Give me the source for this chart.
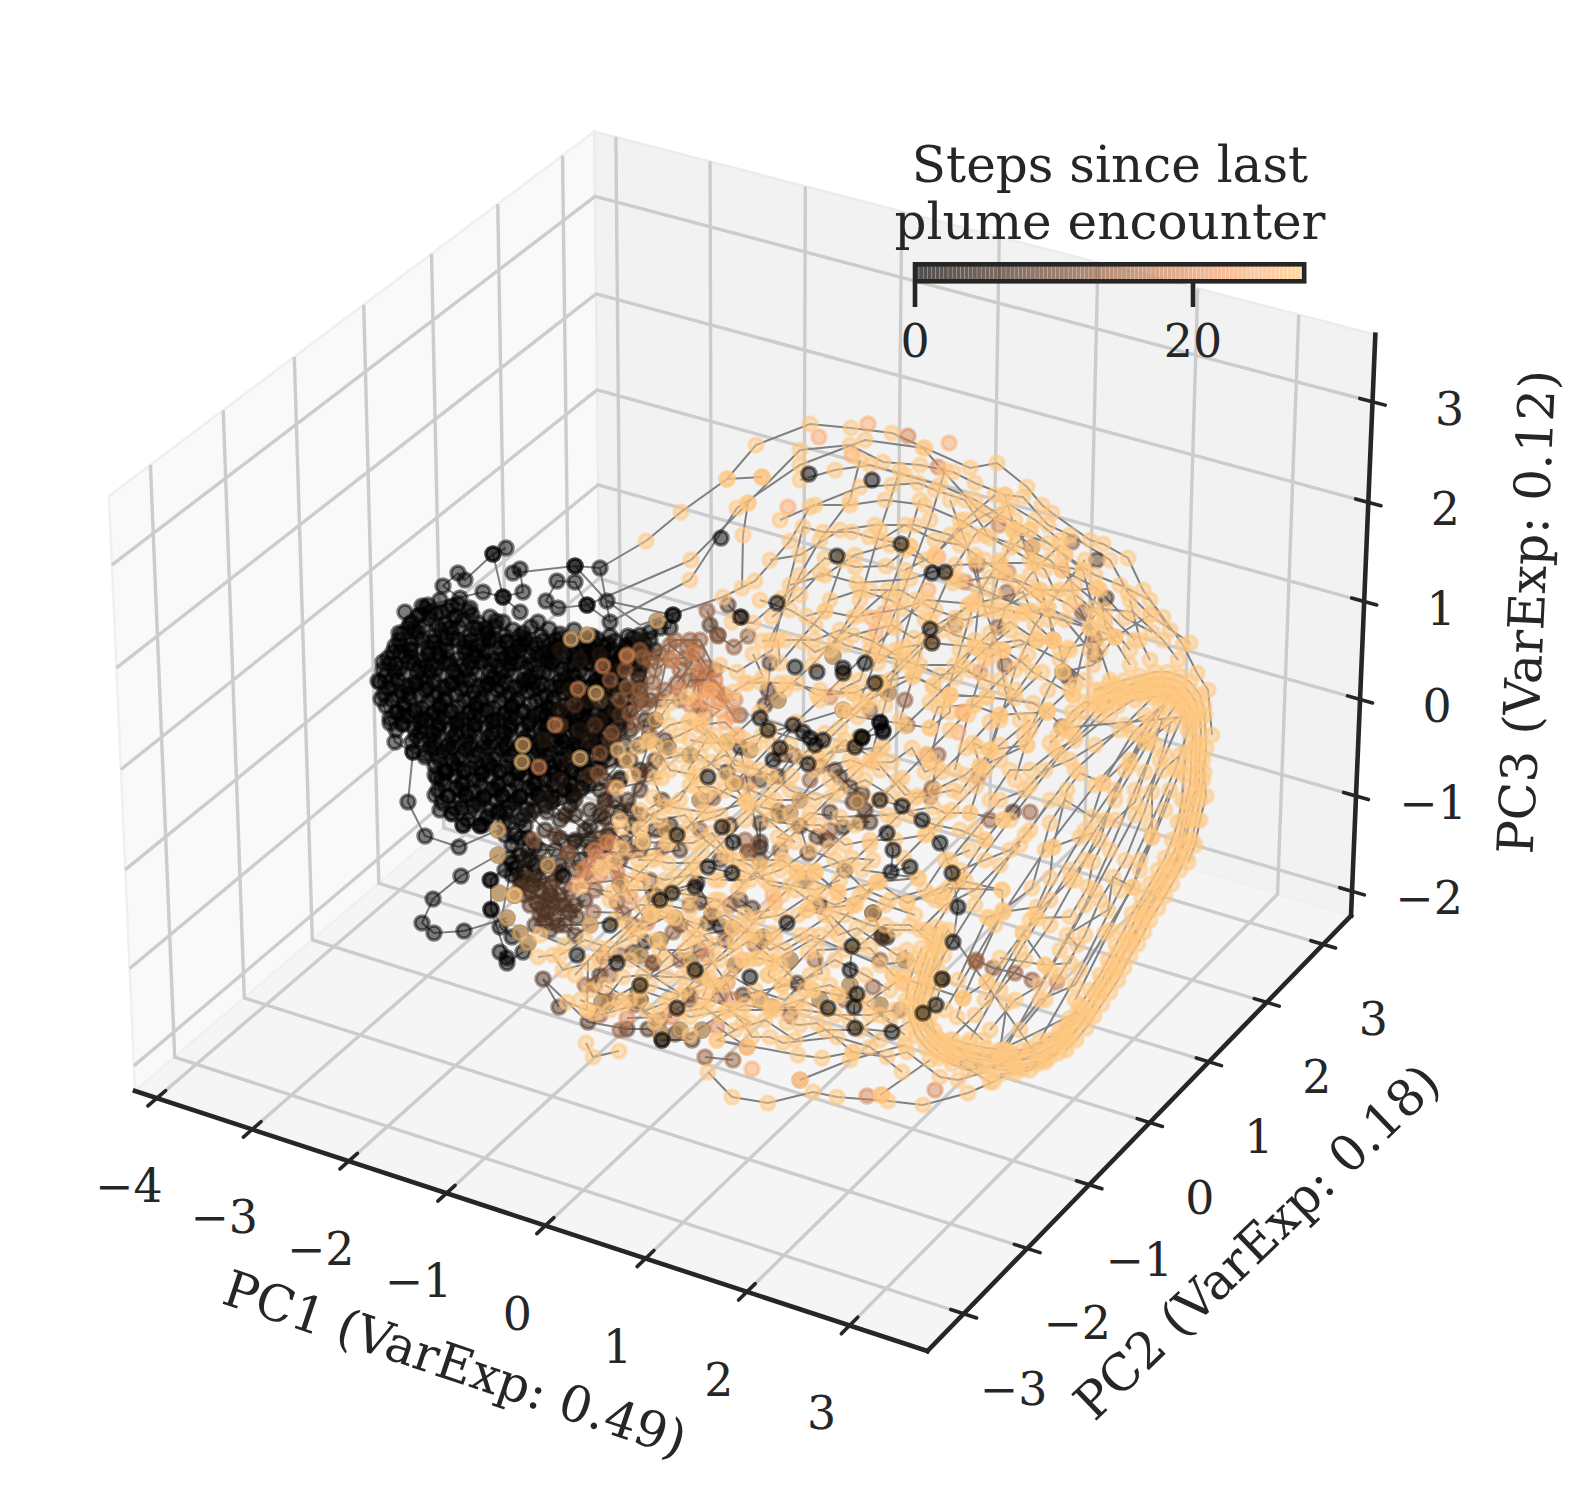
<!DOCTYPE html>
<html><head><meta charset="utf-8">
<script src="https://cdn.jsdelivr.net/npm/d3@7"></script>
<style>html,body{margin:0;background:#fff}svg{display:block}text{font-family:"DejaVu Serif",serif;fill:#262626}</style>
</head><body><svg id="c" width="1596" height="1493"></svg>
<script>
// axis data
const xLim=[-4.23,3.75], yLim=[-3.56,3.5], zLim=[-2.26,3.66];
const xTicks=[-4,-3,-2,-1,0,1,2,3], yTicks=[-3,-2,-1,0,1,2,3], zTicks=[-2,-1,0,1,2,3];
const cbTicks=[0,20], stepDomain=[0,28];
const labelPC1="PC1 (VarExp: 0.49)", labelPC2="PC2 (VarExp: 0.18)", labelPC3="PC3 (VarExp: 0.12)";
const cbTitle=["Steps since last","plume encounter"];
// trajectory states (x,y pairs per track)
const links=[[600,568,646,541],[607,601,640,625],[459,847,498,830],[461,876,498,855],[464,931,507,918],[413,752,395,742],[588,1022,567,1002],[543,979,567,1002],[662,1040,692,1040],[610,622,690,580],[587,605,691,560],[640,625,723,597]];
const cloudRows=[
[425,608,441,612,452,606,468,611],[412,622,429,619,445,624,463,620,478,623,496,621],
[402,634,418,632,435,636,452,633,470,635,488,632,505,636,523,633,541,636,560,634],
[395,646,411,644,428,648,446,645,464,647,482,644,500,648,518,646,536,644,554,648,572,645,590,647,608,644,626,646,644,643],
[388,658,405,656,422,660,440,657,458,659,476,656,494,660,512,658,530,656,548,660,566,657,584,659,602,656,620,658,640,655],
[383,670,400,668,418,672,436,669,454,671,472,668,490,672,508,670,526,668,544,672,562,669,580,671,598,668,616,670,634,668],
[380,682,398,680,416,684,434,681,452,683,470,680,488,684,506,682,524,680,542,684,560,681,578,683,596,680,614,682],
[384,694,402,692,420,696,438,693,456,695,474,692,492,696,510,694,528,692,546,696,564,693,582,695,600,692],
[386,706,404,704,422,708,440,705,458,707,476,704,494,708,512,706,530,704,548,708,566,705,584,707,602,704,620,706],
[390,718,408,716,426,720,444,717,462,719,480,716,498,720,516,718,534,716,552,720,570,717,588,719,606,716,624,718],
[396,730,414,728,432,732,450,729,468,731,486,728,504,732,522,730,540,728,558,732,576,729,594,731,612,728],
[412,742,430,740,448,744,466,741,484,743,502,740,520,744,538,742,556,740,574,744,592,741,610,743],
[425,754,443,752,461,756,479,753,497,755,515,752,533,756,551,754,569,752,587,756,605,753],
[435,766,453,764,471,768,489,765,507,767,525,764,543,768,561,766,579,764,597,768],
[437,778,455,776,473,780,491,777,509,779,527,776,545,780,563,778,581,776],
[438,790,456,788,474,792,492,789,510,791,528,788,546,792,564,790,582,788],
[442,802,460,800,478,804,496,801,514,803,532,800,552,802,570,806],[452,814,470,812,488,816,506,813,524,815],[463,825,480,826],
[420,615,438,626,456,616,474,628,490,640,410,650,428,654,446,638,466,642,486,652,506,642,526,642,546,652,566,652,586,640,604,652],
[396,664,414,664,432,664,450,664,470,662,490,664,510,664,530,664,552,664,574,664,592,664,612,664,628,662],
[392,688,410,688,428,688,446,688,466,688,484,688,502,688,520,688,538,688,556,688,574,688,590,688,606,688],
[398,712,416,712,434,712,452,712,470,712,488,712,506,712,524,712,542,712,560,712,578,712,596,712,612,712],
[404,724,422,726,440,724,458,726,476,724,494,726,512,724,530,724,548,726,566,724,584,724,602,724],
[434,748,452,748,470,748,488,748,506,748,524,748,542,748,560,748,578,748,596,748],
[446,772,464,772,482,772,500,772,518,772,536,772,554,772,572,772,590,772],[448,796,466,796,484,796,502,796,520,796,538,796]
];
const cloudLayerA=[
[418,616,436,614,454,618,472,615,490,617,408,628,424,626,441,630,459,627,477,629,495,626,513,630,531,627,549,629,399,640,417,638,435,642,453,639,471,641,489,638,507,642,525,639,543,641,561,638,579,642,597,639,615,641,633,638,650,640],
[393,652,411,650,429,654,447,651,465,653,483,650,501,654,519,651,537,653,555,650,573,654,591,651,609,653,627,650,645,652,390,664,408,662,426,666,444,663,462,665,480,662,498,666,516,663,534,665,552,662,570,666,588,663,606,665,624,662,642,664],
[386,676,404,674,422,678,440,675,458,677,476,674,494,678,512,675,530,677,548,674,566,678,584,675,602,677,620,674,638,676,388,688,407,686,425,690,443,687,461,689,479,686,497,690,515,687,533,689,551,686,569,690,587,687,605,689,623,686,640,688],
[392,700,410,698,428,702,446,699,464,701,482,698,500,702,518,699,536,701,554,698,572,702,590,699,608,701,626,698,396,712,414,710,432,714,450,711,468,713,486,710,504,714,522,711,540,713,558,710,576,714,594,711,612,713,630,710],
[402,724,420,722,438,726,456,723,474,725,492,722,510,726,528,723,546,725,564,722,582,726,600,723,618,725,416,736,434,734,452,738,470,735,488,737,506,734,524,738,542,735,560,737,578,734,596,738,614,735],
[430,748,448,746,466,750,484,747,502,749,520,746,538,750,556,747,574,749,592,746,610,750,440,760,458,758,476,762,494,759,512,761,530,758,548,762,566,759,584,761,602,758,446,772,464,770,482,774,500,771,518,773,536,770,554,774,572,771,590,773],
[445,784,463,782,481,786,499,783,517,785,535,782,553,786,571,783,589,785,448,796,466,794,484,798,502,795,520,797,538,794,556,798,574,795,455,808,473,806,491,810,509,807,527,809,545,806,468,820,486,818,504,822,520,820]
];
const cloudLayerB=[
[405,612,422,606,440,600,458,604,410,624,430,612,448,610,470,608,486,628,503,622,520,636,538,622,556,640,574,630,592,636,610,636,628,636],
[402,646,422,640,440,648,458,640,478,646,496,640,514,652,532,648,550,644,568,640,586,652,604,646,622,654,640,648],
[395,672,412,658,430,672,448,660,466,670,484,660,502,672,520,662,538,672,556,660,574,676,592,656,610,672,628,656],
[398,696,416,682,434,696,452,684,470,698,488,684,506,696,524,684,542,698,560,686,578,698,596,684,614,698],
[404,708,422,718,440,708,458,722,476,708,494,720,512,708,530,720,548,708,566,720,584,708,602,720,620,708],
[420,740,438,730,456,742,474,730,492,742,510,730,528,742,546,730,564,742,582,730,600,742],
[438,756,456,768,474,756,492,768,510,756,528,768,546,756,564,768,582,756,600,768],
[442,780,460,790,478,780,496,790,514,780,532,790,550,780,568,790,586,780,462,808,480,800,498,812,516,800,534,810,552,796,572,796]
];
const cloudLayerC=[
[414,630,432,642,450,628,468,650,486,634,504,658,522,644,540,656,558,646,576,660,594,642,612,650,630,644],
[400,652,420,668,438,654,456,674,474,656,492,678,510,654,528,680,546,658,564,674,582,652,600,678,618,664],
[392,680,408,694,426,682,444,700,462,680,480,702,498,680,516,702,534,682,552,702,570,684,588,704,606,680],
[404,716,420,732,438,716,456,734,474,716,492,734,510,716,528,736,546,716,564,736,582,716,600,732],
[434,742,452,760,470,744,488,762,506,744,524,762,542,744,560,760,578,744,444,770,462,784,480,768,498,786,516,768,534,784,552,768,570,784]
];
const blackEdge=[
[506,548,493,554,503,597,523,592,520,569,513,573,575,566,600,568,610,622,587,605,575,582,557,581,546,601,558,608,587,605],
[493,554,465,580,458,573,443,586,460,598,428,605,483,592,503,597,520,612],
[575,566,607,601,673,615],
[399,633,383,662,378,681,381,699,390,723,395,742,413,752,425,757,435,775,435,795,440,810,452,813,463,825,480,825],
[413,752,408,802,425,836,459,847],
[461,876,433,899,422,923,434,933,464,931],
[491,880,491,909,507,958,500,952,507,963,523,952],
[483,825,500,810,512,845,505,835,520,838,510,858,520,855,528,850,516,868,525,872,535,865,505,870,490,880,512,863,500,927,512,937,491,910],
[673,615,670,628,660,628,650,632,640,635],
[510,822,525,826,515,835,528,838,530,860,512,875,522,882,535,845]
];
const blackTop=[
[721,538],[809,474],[872,480],[837,556],[901,544],[932,573],[945,572],[741,617],[777,603],[930,629],[932,643],[865,663],[843,668],[843,673],[817,672],[795,667],
[810,738,823,740,793,725,780,748,760,718,803,732,815,745,768,730],[862,737,880,723,883,730],[773,760,808,764],[880,722,883,732,862,738,855,747],[875,683],
[880,800,902,806,922,820,940,843,952,873,958,907,953,942],[887,833,893,850,891,872,910,867],[852,946,850,970,857,994,854,1007,855,1028,892,1032,923,1013,936,1005,942,979],
[708,867,732,873,733,842,722,827],[695,887,672,893],[787,923],[750,977],[828,1008],[708,777],[677,835],[617,963],[577,955],[563,876],[677,1008],[695,970],[662,1040],[640,985],[610,925],[660,900]
];
const shade4=[
[547,812,560,820,575,815,590,826,605,818,620,812,632,826,560,838,575,842,590,850,608,835],
[640,640,655,650,640,670,625,690,615,710,630,730,645,720,640,745,622,760,605,780,620,778,605,800,590,810],
[568,853,560,873,540,880,550,895,533,885],[708,923,720,926,697,883,655,895],[760,847,740,747,727,772],[873,913,882,935,887,937],[645,942],[638,992],
[560,650,580,660,600,655,620,670,570,690,590,700,610,690,630,690,560,710,580,730,600,720,620,730,640,700,545,740,570,760,590,740,610,760,625,745,560,780,580,790,600,790,620,780,545,800,565,815,585,830,600,815,615,800,630,810,640,770,650,740,655,720],
[525,860,535,875,545,865,555,850,540,850,520,880,560,865,580,860,575,840,590,840,605,845,545,830,530,815,575,800]
];
const shade8=[
[537,903,552,900,543,910,560,905,545,922,558,925,570,912,530,892,520,888,555,880,577,917,547,913],
[588,1022,627,1029,648,1029,662,1040],[675,1034,692,1040],
[543,979,559,1007],[653,963,633,952],[628,800,640,790,650,770,662,800,640,815,605,805],[700,902,712,915],[752,908,740,900],[718,635,710,625],[770,663,768,690,765,705],[740,617,728,605],[840,777,850,787,862,794,853,802],[870,822,860,822,843,827,830,812],[817,837,827,840,800,826,808,853],[778,811,790,813,760,823,760,842,748,852],[778,776,793,755],[797,983,743,995],[882,938],[1106,598],[1097,560],[1095,655],[1068,677],[1062,727],[1013,812],
[600,700,620,715,640,680,650,700,610,740,630,760,640,775,655,760,665,740,590,775,560,725,575,705,595,725],
[530,880,540,890,550,885,560,895,570,890,530,905,540,915,555,915,565,905,575,905,585,900,550,930,565,925,575,935,590,925,535,925,545,900,525,895],
[610,830,625,842,640,850,655,830,670,825,680,850,620,860,575,870,555,835,600,838],
[640,1000],[680,925],[720,860],[760,860],[800,800],[835,770],[865,810],[690,995],[600,975],[730,825],[760,780],[845,870],[820,905]
];
const shade13=[
[707,611,718,636,734,647,748,636],[627,657,643,657,660,655,653,683,627,687,638,700,630,713,612,733,600,753,598,773,613,787],[677,683,692,663,687,647,698,653,707,667,697,677,700,707],
[533,840,568,853,627,852,662,848],[595,890,617,902,623,913,593,912],[633,925,603,957,595,985],[673,932,653,963],[705,1057,733,1060],[976,960,993,968,1015,973,1032,980],[930,797,932,788,938,755],[907,725],[1082,612],[1007,592],[1072,542],[1032,547],[977,565],[998,627],[1095,640],[1005,665],[990,820],[1030,812],[873,987],[976,962],[748,783],[820,766],[713,798],[748,852],
[640,650,655,670,670,660,680,670,665,690,645,705,660,700,680,700,690,680,705,680,715,670,700,640,690,640,675,640,625,670,610,680,635,725,650,735,670,645,685,658,650,660,640,690,620,700],
[600,1015,635,1005,660,1020,690,1000,620,955,585,985,610,1000,700,950,725,940],
[620,1030],[610,975],[680,960],[720,995],[755,945],[790,1015],[815,960],[845,1000],[880,960],[900,1010],[690,905],[650,880],[730,905],[780,850],[700,830],[745,840],[810,780],[830,830],[780,755],[740,715],[860,800],[905,700],[955,625],[870,710]
];
const shade20=[
[578,689,603,666,627,655,672,660],[555,725,539,767],[717,690,707,690,720,700,733,715,693,653],[583,870,597,857,617,872,647,923],[630,897,607,842,612,843],[707,955,727,983,733,1000],[627,1018,672,1017],[747,1047,717,1027],[1057,982],[999,525],[965,582],[1053,640],[1008,572],[980,672],[978,777],[927,755],[830,697],[908,436],[938,467],[800,1080],[867,1096],[935,1090],
[700,690,715,680,725,695,735,700,700,670,690,705,705,715,680,690],[590,865,600,875,610,860,585,880,595,850,620,880,575,885]
];
const shade24=[[819,437],[868,424],[852,455],[762,477],[788,507],[872,618,884,613],[876,632],[949,443],[938,557],[928,590],[1062,570],[958,732],[963,713],[752,1069],[882,1095],[775,902],[773,895],[903,983],[963,712],[710,690,707,700],[695,700,720,710,700,725,725,722,738,735]];
const tanPoints=[[571,639],[587,635],[596,693],[523,745],[522,762],[580,758],[657,621],[498,830],[498,855],[499,893],[514,895],[507,918],[520,933],[528,943],[515,895],[548,865],[643,842],[668,747],[735,783],[702,1030],[660,1032],[602,1002],[833,656],[843,710],[778,700],[888,693],[860,737],[727,742],[733,783],[942,979],[922,1013],[873,913],[958,880],[763,937],[652,915],[675,918],[732,928],[772,1007],[1063,672],[857,802],[880,683],[750,750],[700,800],[665,830],[620,885],[690,960],[640,1000],[805,880],[780,815],[655,720],[690,755],[640,955],[660,940],[700,975],[735,965],[760,1000],[790,960],[820,1000],[850,985],[880,1005],[905,960],[680,1030]];
const peachMid=[
[600,870,622,848,640,828,665,806,690,785,712,762,735,735,760,712,785,690,812,665,835,640,860,615,888,590],
[610,900,632,880,655,858,680,835,703,812,725,790,750,768,772,745,796,722,820,700,845,675,870,650,895,628,920,605],
[625,940,650,915,672,890,697,868,720,845,745,820,768,798,792,776,815,752,840,728,865,705,890,680,915,655,942,630,968,605],
[575,975,600,948,628,925,652,900,678,876,702,852,726,828,752,806,775,782,800,758,825,733,850,712,876,688,900,664,925,640,955,618],
[640,985,665,960,690,938,712,912,738,890,760,866,785,842,808,820,832,796,856,772,880,750,905,726,930,702,955,678,982,652,1010,630],
[660,1015,685,990,710,965,735,942,758,918,782,895,806,872,830,848,855,825,878,800,902,778,926,754,950,730,975,705,1000,680,1028,655],
[700,1010,725,985,750,960,775,938,798,915,822,892,846,868,870,845,894,820,918,796,942,772,966,748,990,722,1015,698,1042,672],
[760,1000,785,976,808,952,832,930,856,905,880,882,904,858,928,834,952,810,976,786,1000,760,1024,735,1048,710,1075,685],
[580,1000,610,1010,640,990,670,1000,700,985,730,975,755,990,785,1000,810,975,835,960,865,975,890,990],
[605,985,630,1000,655,1022,680,1012,705,1008,735,1030,765,1020,795,1040,825,1030,860,1030,880,1015,905,1035],
[560,955,585,940,610,948,635,935,660,950,685,950,705,940,735,950],
[540,935,565,945,590,925,615,920,640,905,665,905,690,910,715,900,745,915,770,910],
[615,862,640,872,665,880,690,875,715,880,740,870,765,880,790,885,815,890,840,880],
[700,770,725,755,745,765,770,775,790,790,815,800,840,790,865,780,890,795,910,815,935,825,960,830,985,840],
[660,760,680,755,700,755,725,775,745,800,770,820,795,825,820,825,845,845,870,840,895,840,925,835],
[640,810,660,820,685,815,705,840,725,855,750,865,770,885,795,890,815,905,845,915,870,925,895,930,925,930],
[930,760,945,700,960,650,975,600,1000,560,1030,530],[955,770,968,715,985,660,1005,610,1030,575,1060,545],
[985,770,1000,720,1015,670,1035,625,1060,590,1085,560],[1015,780,1030,730,1048,690,1070,650,1095,615],
[900,720,915,670,930,620,950,575,975,535,1005,510],[870,760,885,705,900,650,915,600,935,555,965,520,995,495],
[990,800,1010,770,1030,770,1055,750,1075,740,1100,715,1120,700],[950,860,975,830,1000,800,1025,790,1045,770,1070,760,1095,745,1120,730,1145,715],
[935,900,960,870,985,860,1010,850,1030,830,1050,800],[920,930,945,905,975,890,1000,865,1020,845],
[1030,920,1050,900,1070,880,1085,860,1100,840,1115,790,1130,760,1150,730],
[1020,1030,1045,1000,1060,975,1085,935,1100,900,1125,860,1145,810,1160,760,1170,725],
[990,1030,1015,1000,1040,985,1060,950,1085,905,1110,850,1135,790,1155,745],
[950,1040,975,1015,1000,990,1025,960,1050,925,1075,880,1105,820,1125,770,1150,720],
[880,540,905,525,935,540,960,545,985,560],[905,570,935,555,960,530,985,515,1010,505,1035,520,1060,540],
[870,590,900,590,935,610,965,620,1000,610,1035,590,1070,590,1105,620,1130,650],
[785,640,815,640,840,630,870,640,905,660,940,675,970,670],
[650,740,670,725,690,720,715,735,735,765,760,770,790,745,815,770,850,760,880,770],
[690,1035,720,1015,745,1005,775,1010,805,1010,835,1015,870,1015,895,1010],
[640,930,670,915,700,925,725,915,755,935,785,950,810,935,845,950,880,965,915,960],
[720,880,750,880,780,870,810,850,835,860,865,890,890,900,925,890,945,860,970,850],
[820,760,845,740,875,760,905,795,935,790,965,775,1000,745,1030,720],
[800,480,835,470,870,465,905,475,940,485,975,500,1000,515,1030,530,1065,555,1095,575,1120,585,1150,600,1170,630],
[780,520,815,505,850,505,885,500,925,505,960,520,985,535,1015,545,1050,560,1075,585,1105,610,1135,640],
[770,560,800,555,840,530,875,525,915,525,950,535,975,555,1005,575,1040,590,1070,605,1100,635],
[790,585,825,575,855,555,890,545,925,560,960,580,995,595,1030,610,1065,620,1090,650],
[830,600,860,590,890,600,925,620,955,635,990,645,1020,640,1060,660,1085,680],
[760,600,790,610,815,625,845,645,880,655,920,665,955,665,985,680,1015,690],
[975,560,985,610,1000,650,1005,690,1020,720],[1040,590,1050,620,1060,650,1070,690],[1065,555,1075,600,1100,650,1110,680],
[1130,600,1140,640,1150,660],[1015,520,1030,560,1045,600],[1005,495,1015,530,1000,570,990,610],
[1100,590,1105,625,1130,665],[950,500,965,540,980,590,975,640],[920,500,905,550,880,620,860,680,840,690],
[900,470,880,530,860,600,830,650],[860,460,850,500,820,540,800,575,770,640],[945,470,930,520,900,600,880,650,860,700],
[925,985,975,905,1025,835,1075,770,1125,725,1155,695],[945,1010,995,925,1045,850,1095,785,1140,735,1170,695],[970,1040,1020,950,1070,870,1115,800,1150,740,1180,700],
[1005,1050,1050,970,1095,890,1135,815,1165,755,1185,710],[1040,1040,1080,970,1120,890,1150,825,1175,770,1190,725],[1075,1000,1110,930,1140,870,1165,810,1180,770],
[930,935,965,880,1010,820,1060,755,1110,715,1140,695],[945,900,985,840,1030,785,1075,735,1100,705],[985,1000,1035,915,1085,830,1130,765,1165,705],
[800,1080,850,1060,905,1045],[880,1095,930,1060],[990,1082,945,1055],
[590,990,620,1000,650,985,680,995,710,1000,740,1010,770,1010,800,1000,825,1010,850,1020,880,1040],
[600,960,630,960,655,940,690,970,720,960,750,940,780,965,805,990,830,985,860,1000,890,1020],
[660,910,690,925,715,945,740,925,770,950,800,935,830,915,860,945,885,925,910,925,935,945],
[630,890,660,890,690,895,720,900,750,920,780,915,810,895,835,905,860,895,885,905,915,915],
[620,820,650,815,680,800,695,775,670,770,655,745,680,735,700,725,720,745,745,740,770,730],
[640,830,670,840,690,825,720,815,750,790,775,800,800,800,830,780,855,765]
];
const peachTracks=[
[646,541,681,512,727,479,756,445,810,424,851,428,892,433,925,448,970,468,997,463,1027,487,1042,505,1052,513,1090,540,1103,544,1128,558,1143,590,1163,617,1183,645,1197,673,1208,690,1212,735],
[691,560,748,503,800,450,850,445,883,462,920,465,953,472,975,483,1005,495,1023,497,1048,525,1070,535,1110,560,1128,593,1150,615,1190,643],
[690,580,737,508,800,465,865,440,923,448,978,510,1013,530,1048,543,1083,570,1093,608,1133,612,1163,640,1178,660],
[723,597,755,581,790,541,810,507,860,487,892,485,918,483,935,490,965,500,990,538,1010,548,1045,570,1055,592,1097,588,1125,618,1152,632],
[742,588,743,535,748,503],[727,479,762,477],
[732,622,753,623,782,598,825,558,855,567,886,566,910,546,953,583,990,577,1017,582,1048,608,1090,628,1115,637,1150,615],
[772,617,800,595,820,573,857,583,910,579,955,565,1000,563,1035,563,1083,570],
[806,616,825,611,854,617,901,609,927,600,973,604,1023,592,1032,612,1090,628],
[802,642,815,652,853,635,892,625,914,638,973,604,1023,613,1053,640],
[762,641,778,640,780,663,825,611,843,560],[753,654,763,677,745,683,787,683,820,690,853,693,869,700,913,677,933,685,990,633,1010,622,1037,640,1068,648,1115,637],
[720,665,737,672,772,650,803,527,823,532,852,532,869,537,910,546],[878,663,895,650,904,647,932,643,975,647,1003,650,1037,640],
[733,692,748,683,760,682,780,683,797,683,817,695,853,693,880,683,913,675,950,695,987,697,1033,703,1047,712,1067,730],
[690,740,705,743,727,742,755,747,762,735,843,710,858,717,930,728,938,707,973,705,1000,715,1053,640],
[688,770,708,737,688,723,703,720,687,697,670,703,662,715,647,742,637,747,618,750,627,760,633,775,655,778,662,778,617,788],
[705,795,697,787,713,787,747,803,765,808,790,813,840,745,855,747,828,753,883,747,870,763,892,762,912,748,925,772,937,767],
[622,827,643,842,667,843,693,843,712,833,730,857,742,883,767,867,783,860,797,873,815,870,852,858,873,860,862,870,918,878],
[653,797,672,807,708,813,747,803,795,842,778,837,810,813,840,817,887,815,933,807,945,813,970,813,1003,820],
[638,860,653,860,668,863,692,863,737,860,782,860,795,870,815,873,838,892,853,905,877,882,907,903,930,895,942,893,948,888,1002,890],
[612,892,580,887,603,867,643,882,652,915,675,918,695,937,732,928,747,933,773,933,807,910,825,915,838,935,857,928,897,955,907,950],
[538,957,553,955,563,970,588,963,587,1010,595,1013,623,977,643,975,667,977,682,977,710,982,715,985,743,960,758,958,773,962,820,935],
[586,1043,593,1057,619,1051],[567,1002,587,1010],[623,1005,647,1010,665,1003,690,1017,727,1010,750,1022,717,1040,747,1047],
[708,1072,732,1097,768,1103,813,1092,837,1097,888,1101,923,1105,968,1093,993,1082,1017,1068],
[717,1040,798,1055,822,1058,853,1052,887,1057,907,1052,940,1077,958,1080,985,1072],
[703,997,710,978,730,1010,743,1023,752,1037,770,1037,783,1043,837,1037,870,1047,902,1072],
[787,1023,800,1025,817,1023,853,1052],[772,1007,795,1007,813,990,838,995,867,1003,903,977,893,975,870,948,817,950,822,973,782,985,768,975],
[743,960,758,958,773,962,768,975],[838,995,813,990,782,985],
[807,910,853,905,838,892,815,873],[907,903,958,880,1002,890,1003,912,990,918],
[797,873,838,892,877,882,918,878],
[958,980,987,917,1003,912,1037,907,1050,878,1053,847,1067,790,1080,773,1103,783,1133,733,1160,707],
[963,998,1003,910,1032,888,1050,823,1065,800,1092,817,1103,783,1145,743,1178,717],
[987,982,1023,933,1038,918,1070,917,1088,887,1093,862,1115,820,1135,802,1145,772,1162,720],
[1000,958,1045,965,1070,963,1077,945,1067,935,1108,910,1113,877,1133,887,1140,860,1152,837,1152,792,1163,770,1180,755],
[1007,1003,1000,1050,1040,1000,1075,985,1105,933,1133,887,1152,837,1170,790],
[983,1040,957,1017,963,998,987,982],[1093,833,1080,837,1053,847],
[977,747,990,750,980,767,1027,745,1047,712,1000,715,990,750,970,813,1003,820],
[898,780,915,798,953,790,960,793,980,765,973,743,990,750,1027,745],
[1013,530,1032,547,1035,563,1062,570,1097,588,1073,695,1063,672,1093,665,1115,637],
[962,665,975,647,990,657,1003,650,1023,663,1033,672,1073,695],[1013,613,1023,613,1048,608,1053,640,1037,640],
[930,728,950,712,950,695,987,697],
[933,687,950,695],[903,977,893,975,963,998],[1045,965,1023,933]
];
const ringBand=[
[1050,743,1058,735,1066,727,1074,720,1082,712,1090,704,1100,697,1110,692,1120,688,1130,685,1140,682,1150,679,1160,678,1170,679,1180,682,1188,690,1194,699,1198,709,1200,720,1201,733,1200,745,1199,757,1199,770,1199,783,1196,796,1193,808,1190,820,1187,833,1184,845,1179,857,1173,868,1167,879,1161,890,1155,900,1148,910,1142,921,1137,932,1131,943,1124,954,1118,965,1112,976,1105,987,1098,998,1090,1010,1082,1022,1072,1036,1062,1047,1050,1057,1037,1064,1023,1069,1008,1070,993,1068,978,1066,963,1062,950,1058,940,1053,930,1044,922,1034,916,1022,913,1010,914,996,918,983,922,968,927,953,932,940,937,927],
[1106,704,1118,698,1132,693,1146,689,1160,686,1172,688,1182,695,1189,708,1192,722,1193,738,1191,752,1191,768,1190,785,1186,802,1183,820,1179,838,1174,852,1166,866,1158,880,1150,894,1140,908,1134,922,1126,938,1118,952,1110,966,1102,980,1094,994,1084,1008,1074,1022,1064,1034,1052,1046,1040,1053,1026,1058,1010,1060,994,1058,978,1055,962,1052,948,1046,936,1036,928,1024,924,1010,924,996,928,980,933,964,938,948,943,932],
[1118,706,1135,700,1152,697,1166,697,1178,705],[1204,706,1206,748,1204,772,1206,796,1200,820,1195,845,1188,862],[906,1000,908,985,915,965,922,948],[953,1040,968,1044,986,1048,1004,1050,1022,1050],
[1100,690,1115,685,1125,692,1145,683,1155,685,1165,683,1176,688,1184,700,1195,715,1196,745,1196,762,1195,790,1188,812,1182,845,1170,872,1160,885,1145,915,1130,940,1115,970,1100,992,1088,1015,1068,1040,1045,1060,1015,1066,985,1066,955,1056,932,1040,920,1022,918,1000,924,975,930,958],
[1010,1052,1030,1048,1050,1040,1066,1028,1002,1062,970,1058,940,1040,918,1016,940,945,948,930,1040,1060,1060,1040],
[1000,1056,1015,1056,1030,1052,1045,1045,1058,1036,1068,1024,1078,1012,988,1056,972,1052,958,1048,944,1042,934,1030,930,1016,930,1000,935,985,938,970,944,955],
[1000,1074,1015,1073,1030,1070,1045,1062,1058,1053,968,1070,952,1064,938,1058,926,1048,916,1036,910,1020,908,1005],
[1203,760,1203,780,1200,800,1196,820,1192,840,1186,856,1180,870,1172,884,1165,896,1158,908,1150,920,1144,932,1138,944,1130,956,1124,968,1118,980,1110,992,1102,1004,1094,1016,1086,1028,1076,1040,1066,1050],
[1186,752,1184,775,1182,800,1178,822,1172,840,1165,858,1158,870,1150,884,1142,898,1132,914,1124,930,1116,945,1108,960,1100,975,1090,990,1080,1005,1070,1018,1060,1030],
[1095,690,1110,684,1125,680,1140,676,1155,672,1168,672,1180,676,1190,682,1200,695,1205,715,1062,728,1072,712,1085,702,1098,704,1110,700,1125,695,1140,692,1155,692,1170,695,1180,702,1186,715,1188,730]
];
// colour: copper colormap sampled at its stops
const copperStops=["#000000","#28190f","#503220","#784b30","#a06440","#c87d4f","#f0965f","#ffae6f","#ffc77f"];
const d=window.d3,svg=d.select("#c");
const stepColor=d.scaleLinear().domain(copperStops.map((c,i)=>stepDomain[0]+i*(stepDomain[1]-stepDomain[0])/(copperStops.length-1))).range(copperStops).clamp(true);
// matplotlib 3D projection (elev 30, azim -60, box aspect 4:4:3)
const ux=d.scaleLinear(xLim,[0,1]),uy=d.scaleLinear(yLim,[0,1]),uz=d.scaleLinear(zLim,[0,1]);
const B=[1.1905,1.1905,.877],dist=10.8;
const el=30*Math.PI/180,az=-60*Math.PI/180;
const nH=[Math.cos(el)*Math.cos(az),Math.cos(el)*Math.sin(az),Math.sin(el)];
const uH=[-Math.sin(az),Math.cos(az),0];
const vH=[-Math.sin(el)*Math.cos(az),-Math.sin(el)*Math.sin(az),Math.cos(el)];
const dot=(a,b)=>a[0]*b[0]+a[1]*b[1]+a[2]*b[2];
function view(x,y,z){const p=[(ux(x)-.5)*B[0],(uy(y)-.5)*B[1],(uz(z)-.5)*B[2]];const w=dist-dot(p,nH);return [dot(p,uH)/w,dot(p,vH)/w];}
const vL=view(xLim[0],yLim[0],zLim[0]),vF=view(xLim[1],yLim[0],zLim[0]),vR=view(xLim[1],yLim[1],zLim[0]);
const sx=d.scaleLinear([vL[0],vR[0]],[135,1351]),sy=d.scaleLinear([vF[1],vL[1]],[1351,1091]);
const P=(x,y,z)=>{const v=view(x,y,z);return [sx(v[0]),sy(v[1])];};
const line=d.line();
const [x0,x1]=xLim,[y0,y1]=yLim,[z0,z1]=zLim;
// panes
const panes=[{c:"#f9f9f9",p:[[x0,y0,z0],[x0,y1,z0],[x0,y1,z1],[x0,y0,z1]]},{c:"#f2f2f2",p:[[x0,y1,z0],[x1,y1,z0],[x1,y1,z1],[x0,y1,z1]]},{c:"#f5f5f5",p:[[x0,y0,z0],[x1,y0,z0],[x1,y1,z0],[x0,y1,z0]]}];
svg.append("g").selectAll("path").data(panes).join("path").attr("d",q=>line(q.p.map(a=>P(...a)))+"Z").attr("fill",q=>q.c).attr("stroke",q=>q.c==="#f2f2f2"?"#ececec":"#f0f0f0").attr("stroke-width",2.5);
// grid
const grid=[...xTicks.map(t=>[[t,y0,z0],[t,y1,z0],[t,y1,z1]]),...yTicks.map(t=>[[x1,t,z0],[x0,t,z0],[x0,t,z1]]),...zTicks.map(t=>[[x0,y0,t],[x0,y1,t],[x1,y1,t]])];
svg.append("g").selectAll("path").data(grid).join("path").attr("d",g=>line(g.map(a=>P(...a)))).attr("fill","none").attr("stroke","#cccccc").attr("stroke-width",3.4).attr("stroke-linejoin","miter");
// axes
const axes=[[[x0,y0,z0],[x1,y0,z0]],[[x1,y0,z0],[x1,y1,z0]],[[x1,y1,z0],[x1,y1,z1]]];
svg.append("g").selectAll("path").data(axes).join("path").attr("d",g=>line(g.map(a=>P(...a)))).attr("stroke","#262626").attr("stroke-width",4.6).attr("stroke-linecap","square");
const tk=.125;
const tickSeg=[...xTicks.map(t=>[[t,y0-tk,z0],[t,y0+tk,z0]]),...yTicks.map(t=>[[x1-tk,t,z0],[x1+tk,t,z0]]),...zTicks.map(t=>[[x1-tk,y1,t],[x1+tk,y1,t]])];
svg.append("g").selectAll("path").data(tickSeg).join("path").attr("d",g=>line(g.map(a=>P(...a)))).attr("stroke","#262626").attr("stroke-width",3.6).attr("stroke-linecap","round");
const fmt=v=>(v<0?"\u2212":"")+Math.abs(v);
const tickLabels=[...xTicks.map(t=>({t,p:P(t,y0,z0),o:[-28,88]})),...yTicks.map(t=>({t,p:P(x1,t,z0),o:[50,75]})),...zTicks.map(t=>({t,p:P(x1,y1,t),o:[77,7]}))];
svg.append("g").selectAll("text").data(tickLabels).join("text").attr("x",l=>l.p[0]+l.o[0]).attr("y",l=>l.p[1]+l.o[1]).attr("text-anchor","middle").attr("dominant-baseline","central").attr("font-size",45.83).text(l=>fmt(l.t));
const axisLabels=[{s:labelPC1,x:455,y:1364,r:18.6},{s:labelPC2,x:1257,y:1242,r:-44},{s:labelPC3,x:1527,y:612,r:-87.3}];
svg.append("g").selectAll("text").data(axisLabels).join("text").attr("transform",l=>`translate(${l.x},${l.y}) rotate(${l.r})`).attr("text-anchor","middle").attr("dominant-baseline","central").attr("font-size",50).text(l=>l.s);
// marks
const viewX=d.scaleLinear([0,1596],[0,1596]),viewY=d.scaleLinear([0,1493],[0,1493]);
const toPts=a=>d.range(0,a.length-1,2).map(i=>[viewX(a[i]),viewY(a[i+1])]);
const groups=[
 {tracks:cloudRows,step:0,nl:true},{tracks:cloudLayerA,step:0,nl:true},{tracks:cloudLayerB,step:0,nl:true},{tracks:cloudLayerC,step:0,nl:true},{tracks:blackEdge,step:0},{tracks:shade4,step:3},{tracks:shade8,step:7},{tracks:shade13,step:13},{tracks:shade20,step:19},{tracks:shade24,step:24},
 {tracks:tanPoints,step:0,nl:true},{tracks:peachMid,step:28},{tracks:ringBand,step:28},{tracks:peachTracks,step:28},{tracks:tanPoints,step:28,nl:true},{tracks:blackTop,step:0}
];
const lineData=[...links,...groups.filter(g=>!g.nl).flatMap(g=>g.tracks)].filter(a=>a.length>3);
svg.append("g").selectAll("path").data(lineData).join("path").attr("d",a=>line(toPts(a))).attr("fill","none").attr("stroke","#808080").attr("stroke-width",2);
const marks=groups.flatMap(g=>g.tracks.flatMap(a=>toPts(a).map(p=>({p,step:g.step}))));
svg.append("g").selectAll("circle").data(marks).join("circle").attr("cx",m=>m.p[0]).attr("cy",m=>m.p[1]).attr("r",7).attr("fill",m=>stepColor(m.step)).attr("fill-opacity",.5).attr("stroke",m=>stepColor(m.step)).attr("stroke-opacity",.5).attr("stroke-width",3.5);
// colour bar
const cbX=d.scaleLinear([0,20],[915,1193]);
const cbY=[264,281];
const cellSteps=d.range(0,94).map(i=>i*.298);
svg.append("g").selectAll("rect").data(cellSteps).join("rect").attr("x",s=>cbX(s)).attr("y",cbY[0]).attr("width",cbX(.298)-cbX(0)-.3).attr("height",cbY[1]-cbY[0]).attr("fill",s=>stepColor(s)).attr("fill-opacity",.68);
svg.append("rect").attr("x",cbX(0)).attr("y",cbY[0]+.3).attr("width",cbX(28)-cbX(0)).attr("height",cbY[1]-cbY[0]).attr("fill","none").attr("stroke","#262626").attr("stroke-width",4.6);
svg.append("g").selectAll("line").data(cbTicks).join("line").attr("x1",cbX).attr("x2",cbX).attr("y1",283).attr("y2",307).attr("stroke","#262626").attr("stroke-width",4.6);
svg.append("g").selectAll("text").data(cbTicks).join("text").attr("x",cbX).attr("y",341).attr("text-anchor","middle").attr("dominant-baseline","central").attr("font-size",45.83).text(fmt);
svg.append("g").selectAll("text").data(cbTitle).join("text").attr("x",1110).attr("y",(s,i)=>182+i*57).attr("text-anchor","middle").attr("font-size",50).text(s=>s);
</script></body></html>
